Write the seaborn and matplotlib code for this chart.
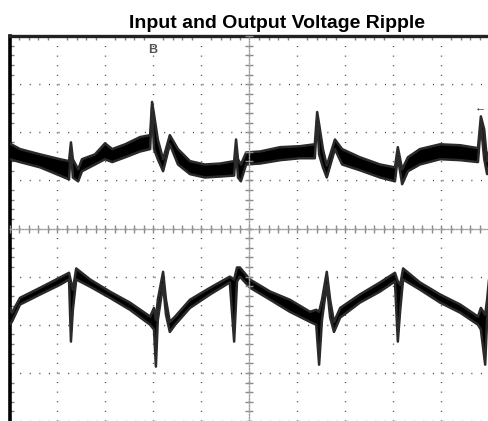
import numpy as np
import pandas as pd
import matplotlib
matplotlib.use("Agg")
import matplotlib.pyplot as plt
import seaborn as sns

# ---- data (oscilloscope screen, in divisions: 10 x 8) ----
title = "Input and Output Voltage Ripple"

# Channel 1 (input ripple, upper trace): time, envelope top, envelope bottom
ch1_t = [0.00, 0.22, 0.64, 1.05, 1.24, 1.28, 1.32, 1.43, 1.51, 1.78, 1.99, 2.14, 2.41, 2.72,
         2.93, 2.97, 3.01, 3.09, 3.20, 3.34, 3.51, 3.76, 4.07, 4.39, 4.68, 4.72, 4.76, 4.82,
         4.93, 5.22, 5.64, 6.05, 6.36, 6.41, 6.45, 6.53, 6.61, 6.78, 6.93, 7.30, 7.72, 8.03,
         8.09, 8.18, 8.30, 8.55, 8.97, 9.39, 9.76, 9.82, 9.89, 9.95, 9.99]
ch1_hi = [5.77, 5.65, 5.54, 5.44, 5.40, 5.79, 5.44, 5.23, 5.44, 5.54, 5.77, 5.65, 5.75, 5.90,
          5.94, 6.63, 6.38, 5.85, 5.44, 5.94, 5.65, 5.40, 5.33, 5.35, 5.40, 5.85, 5.44, 5.33,
          5.58, 5.60, 5.69, 5.71, 5.75, 6.42, 6.17, 5.65, 5.31, 5.85, 5.65, 5.48, 5.33, 5.27,
          5.69, 5.23, 5.48, 5.65, 5.75, 5.73, 5.67, 6.33, 6.06, 5.40, 5.60]
ch1_lo = [5.44, 5.38, 5.27, 5.10, 5.02, 5.65, 5.06, 4.98, 5.19, 5.33, 5.44, 5.38, 5.48, 5.60,
          5.65, 6.52, 5.65, 5.44, 5.19, 5.75, 5.33, 5.13, 5.06, 5.08, 5.10, 5.65, 5.06, 4.98,
          5.33, 5.35, 5.42, 5.46, 5.46, 6.27, 5.54, 5.27, 5.06, 5.65, 5.33, 5.21, 5.06, 4.98,
          5.48, 4.92, 5.19, 5.33, 5.44, 5.42, 5.38, 6.17, 5.44, 5.13, 5.31]

# Channel 2 (output ripple, lower trace)
ch2_t = [0.00, 0.05, 0.22, 0.64, 1.05, 1.24, 1.28, 1.32, 1.39, 1.68, 2.09, 2.51, 2.93, 3.01,
         3.05, 3.09, 3.20, 3.26, 3.34, 3.45, 3.76, 4.18, 4.59, 4.68, 4.74, 4.80, 5.01, 5.43,
         5.84, 6.26, 6.39, 6.45, 6.51, 6.61, 6.68, 6.76, 6.89, 7.30, 7.72, 8.03, 8.09, 8.14,
         8.20, 8.55, 8.97, 9.39, 9.76, 9.82, 9.91, 9.95, 9.99]
ch2_hi = [2.35, 2.25, 2.56, 2.77, 2.98, 3.08, 2.90, 2.73, 3.17, 2.94, 2.69, 2.46, 2.17, 2.35,
          2.10, 2.52, 3.10, 2.52, 2.06, 2.17, 2.52, 2.77, 3.00, 2.94, 3.19, 3.19, 2.94, 2.69,
          2.52, 2.27, 2.31, 2.27, 2.52, 3.10, 2.52, 2.06, 2.35, 2.63, 2.88, 3.08, 2.90, 2.83,
          3.17, 2.88, 2.63, 2.42, 2.17, 2.35, 2.21, 2.52, 2.94]
ch2_lo = [2.00, 2.06, 2.42, 2.63, 2.83, 2.94, 1.65, 2.31, 2.94, 2.79, 2.56, 2.31, 2.00, 1.90,
          1.13, 2.10, 2.83, 2.21, 1.85, 2.00, 2.35, 2.63, 2.88, 1.65, 2.90, 3.00, 2.77, 2.52,
          2.27, 2.06, 2.00, 1.17, 2.10, 2.83, 2.15, 1.85, 2.15, 2.46, 2.69, 2.90, 1.65, 2.31,
          2.94, 2.73, 2.46, 2.25, 2.00, 1.90, 1.17, 2.10, 2.52]

n_xdiv, n_ydiv = 10, 8

# ---- figure ----
sns.set_style("white")
plt.rcParams['font.family'] = ['Liberation Sans', 'DejaVu Sans']
plt.rcParams['lines.scale_dashes'] = False

W, H, DPI = 489, 421, 100
fig = plt.figure(figsize=(W / DPI, H / DPI), dpi=DPI)
rect = [9.5 / W, 0.0, 480 / W, 385 / H]
ax = fig.add_axes(rect)

ax.set_xlim(0, n_xdiv)
ax.set_ylim(0, n_ydiv)

# dotted graticule: 5 dots per division
div_pt = 48 * 72 / DPI
dot = 0.8
ax.set_xticks(np.arange(0, n_xdiv + 1, 1))
ax.set_yticks(np.arange(0, n_ydiv + 1, 1))
ax.grid(True, color="#505050", linewidth=1.0,
        linestyle=(0, (dot, div_pt / 5 - dot)))
ax.set_axisbelow(True)
ax.set_xticks(np.arange(0, n_xdiv + 0.01, 0.2), minor=True)
ax.set_yticks(np.arange(0, n_ydiv + 0.01, 0.2), minor=True)
ax.tick_params(which="major", length=0, labelbottom=False, labelleft=False)
ax.tick_params(which="minor", direction="in", length=3, width=1, color="#808080",
               top=True, bottom=False, left=True, right=False)

for s in ["right", "bottom"]:
    ax.spines[s].set_visible(False)
ax.spines["left"].set_linewidth(2.6)
ax.spines["left"].set_color("black")
ax.spines["top"].set_linewidth(2.4)
ax.spines["top"].set_color("#222222")

# traces: filled envelopes
df1 = pd.DataFrame({"t": ch1_t, "hi": ch1_hi, "lo": ch1_lo})
df2 = pd.DataFrame({"t": ch2_t, "hi": ch2_hi, "lo": ch2_lo})
for df in (df1, df2):
    ax.fill_between(df["t"], df["lo"], df["hi"], color="black", linewidth=0, zorder=3)
    sns.lineplot(data=df, x="t", y="hi", ax=ax, color="#2a2a2a", linewidth=1.8,
                 sort=False, estimator=None, zorder=4)
    sns.lineplot(data=df, x="t", y="lo", ax=ax, color="#2a2a2a", linewidth=1.8,
                 sort=False, estimator=None, zorder=4)
ax.set_xlabel("")
ax.set_ylabel("")

# centre cross with ruler ticks
ax2 = fig.add_axes(rect)
ax2.set_xlim(0, n_xdiv)
ax2.set_ylim(0, n_ydiv)
ax2.patch.set_visible(False)
for s in ["top", "right"]:
    ax2.spines[s].set_visible(False)
ax2.spines["left"].set_position(("data", n_xdiv / 2))
ax2.spines["bottom"].set_position(("data", n_ydiv / 2))
for s in ["left", "bottom"]:
    ax2.spines[s].set_color("#a0a0a0")
    ax2.spines[s].set_linewidth(1.0)
    ax2.spines[s].set_linestyle((0, (1.0, 1.2)))
ax2.set_xticks(np.arange(0, n_xdiv + 0.01, 0.2))
ax2.set_yticks(np.arange(0, n_ydiv + 0.01, 0.2))
ax2.tick_params(direction="inout", length=6, width=1, color="#8a8a8a",
                bottom=True, left=True, top=False, right=False,
                labelbottom=False, labelleft=False)

# channel / trigger markers
ax.text(2.99, 7.70, "B", ha="center", va="center", fontsize=9, color="#555555",
        fontweight="bold")
ax.text(9.80, 6.52, "\u2190", ha="center", va="center", fontsize=8, color="#333333",
        fontweight="bold", clip_on=False)

fig.text(277 / W, 1 - 23.5 / H, title, ha="center", va="center",
         fontsize=14, fontweight="bold", color="black")

fig.savefig("out.png", dpi=DPI)
